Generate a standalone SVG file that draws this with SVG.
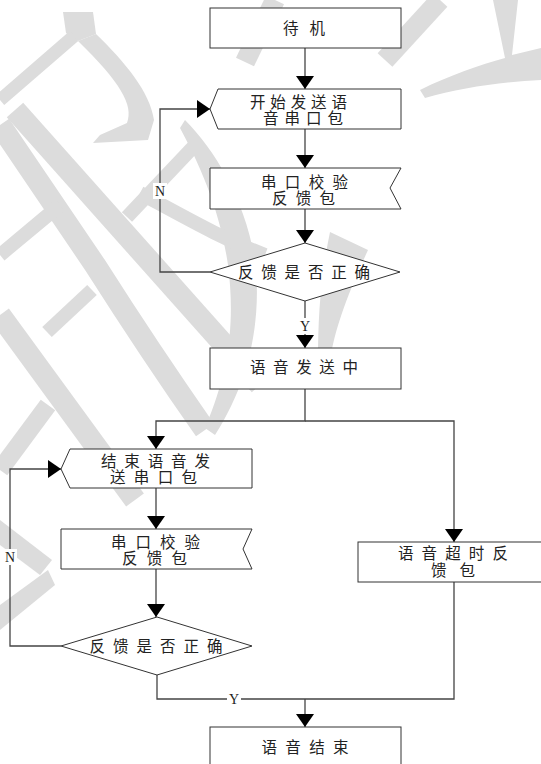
<svg xmlns="http://www.w3.org/2000/svg" width="541" height="764" viewBox="0 0 541 764">
<style>
.wm{fill:#dcdcdc;stroke:none}
.wms{fill:none;stroke:#dcdcdc;stroke-linecap:butt}
.box{fill:#fff;stroke:#333;stroke-width:1}
.con{fill:none;stroke:#444;stroke-width:1.3}
.t{font-family:"Liberation Serif","Noto Sans CJK SC",serif;font-size:15.5px;fill:#222;text-anchor:middle}
.lbl{font-family:"Liberation Serif",serif;font-size:14px;fill:#222;text-anchor:middle}
</style>
<defs>
<marker id="ah" markerUnits="userSpaceOnUse" markerWidth="14" markerHeight="18" refX="13" refY="9" orient="auto">
<path d="M0,0 L13,9 L0,18 Z" fill="#000"/>
</marker>
</defs>
<rect width="541" height="764" fill="#fff"/>
<g id="watermark">
<polygon class="wm" points="63,12 93,12 96,34 78,41 66,33"/>
<path class="wms" stroke-width="13" d="M0,100 L74,36"/>
<path class="wm" d="M78,41 L96,34 C125,62 150,92 154,120 L148,140 L93,143 L100,135 L127,123 C134,105 120,82 78,41 Z"/>
<path class="wms" stroke-width="22" d="M15,110 L260,385"/>
<path class="wms" stroke-width="22" d="M0,125 L95,265 C130,320 170,380 205,430"/>
<path class="wms" stroke-width="22" d="M0,315 L135,500"/>
<path class="wms" stroke-width="14" d="M47,332 L92,290"/>
<path class="wms" stroke-width="14" d="M127,217 L197,143"/>
<path class="wms" stroke-width="14" d="M0,255 L60,205"/>
<path class="wm" d="M185,120 C215,150 245,200 255,260 C262,320 250,380 215,435 L205,428 C230,370 235,320 228,265 C220,210 200,165 180,128 Z"/>
<path class="wms" stroke-width="14" d="M140,193 C190,220 225,240 265,255"/>
<path class="wms" stroke-width="18" d="M0,470 L48,405"/>
<path class="wm" d="M0,520 L52,560 L40,575 L0,545 Z"/>
<path class="wm" d="M0,605 L48,570 L55,585 L0,630 Z"/>
<path class="wms" stroke-width="20" d="M440,0 L385,60"/>
<path class="wms" stroke-width="20" d="M275,0 L245,62"/>
<path class="wm" d="M493,0 L518,0 L512,55 L541,48 L541,80 C500,82 460,88 425,98 L420,90 C450,75 480,65 505,58 Z"/>
<path class="wm" d="M330,232 L368,250 C345,300 335,330 330,360 L318,360 C318,320 320,280 330,232 Z"/>
</g>
<g id="connectors">
<path class="con" d="M305,48 V89" marker-end="url(#ah)"/>
<path class="con" d="M305,129 V168" marker-end="url(#ah)"/>
<path class="con" d="M305,209 V243" marker-end="url(#ah)"/>
<path class="con" d="M210,272 H160 V109 H210" marker-end="url(#ah)"/>
<path class="con" d="M305,301 V348" marker-end="url(#ah)"/>
<path class="con" d="M305,389 V421 H156 V449" marker-end="url(#ah)"/>
<path class="con" d="M305,421 H454 V542" marker-end="url(#ah)"/>
<path class="con" d="M156,488 V529" marker-end="url(#ah)"/>
<path class="con" d="M156,569 V617" marker-end="url(#ah)"/>
<path class="con" d="M61,646 H10 V469 H61" marker-end="url(#ah)"/>
<path class="con" d="M157,675 V699 H454 V582"/>
<path class="con" d="M305,699 V727" marker-end="url(#ah)"/>
<rect x="153" y="183" width="14" height="16" fill="#fff"/>
<text class="lbl" x="160" y="196">N</text>
<rect x="298" y="318" width="14" height="16" fill="#fff"/>
<text class="lbl" x="305" y="331">Y</text>
<rect x="3" y="549" width="14" height="16" fill="#fff"/>
<text class="lbl" x="10" y="562">N</text>
<rect x="227" y="692" width="14" height="15" fill="#fff"/>
<text class="lbl" x="234" y="704">Y</text>
</g>
<g id="n1">
<rect class="box" x="210" y="8" width="191" height="40"/>
<text class="t" x="304" y="34" textLength="42" lengthAdjust="spacing">待机</text>
</g>
<g id="n2">
<polygon class="box" points="218,89 401,89 401,129 218,129 210,109"/>
<text class="t" x="298.5" y="108" textLength="97" lengthAdjust="spacing">开始发送语</text>
<text class="t" x="303" y="124" textLength="80" lengthAdjust="spacing">音串口包</text>
</g>
<g id="n3">
<polygon class="box" points="210,168 401,168 390,188 401,209 210,209"/>
<text class="t" x="304.5" y="187.5" textLength="87" lengthAdjust="spacing">串口校验</text>
<text class="t" x="303.5" y="203.5" textLength="63" lengthAdjust="spacing">反馈包</text>
</g>
<g id="n4">
<polygon class="box" points="210,272 305,243 400,272 305,301"/>
<text class="t" x="304" y="278" textLength="132" lengthAdjust="spacing">反馈是否正确</text>
</g>
<g id="n5">
<rect class="box" x="210" y="348" width="191" height="41"/>
<text class="t" x="304" y="373" textLength="108" lengthAdjust="spacing">语音发送中</text>
</g>
<g id="n6">
<polygon class="box" points="70,449 252,449 252,488 70,488 61,469"/>
<text class="t" x="155.5" y="466.5" textLength="109" lengthAdjust="spacing">结束语音发</text>
<text class="t" x="153.5" y="482.5" textLength="87" lengthAdjust="spacing">送串口包</text>
</g>
<g id="n7">
<polygon class="box" points="61,529 252,529 243,549 252,569 61,569"/>
<text class="t" x="155.5" y="547.5" textLength="89" lengthAdjust="spacing">串口校验</text>
<text class="t" x="154.5" y="563.5" textLength="65" lengthAdjust="spacing">反馈包</text>
</g>
<g id="n8">
<polygon class="box" points="61,646 157,617 252,646 157,675"/>
<text class="t" x="156" y="652" textLength="133" lengthAdjust="spacing">反馈是否正确</text>
</g>
<g id="n9">
<rect class="box" x="358" y="542" width="191" height="40"/>
<text class="t" x="453" y="559" textLength="110" lengthAdjust="spacing">语音超时反</text>
<text class="t" x="453" y="576" textLength="44" lengthAdjust="spacing">馈包</text>
</g>
<g id="n10">
<rect class="box" x="210" y="727" width="191" height="45"/>
<text class="t" x="305" y="753" textLength="87" lengthAdjust="spacing">语音结束</text>
</g>
</svg>
